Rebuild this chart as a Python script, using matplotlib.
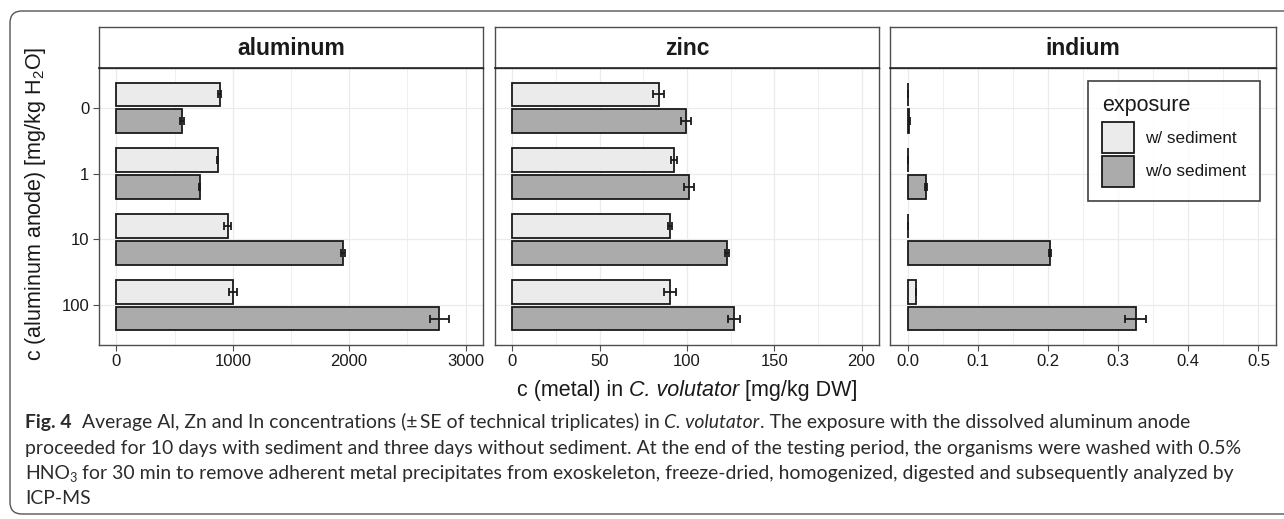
import matplotlib
matplotlib.use("Agg")
import matplotlib.pyplot as plt
from matplotlib.patches import Patch, FancyBboxPatch
from matplotlib import font_manager as fm

plt.rcParams['font.family'] = ['Liberation Sans', 'DejaVu Sans']
plt.rcParams['mathtext.fontset'] = 'custom'
plt.rcParams['mathtext.rm'] = 'Liberation Sans'
plt.rcParams['mathtext.it'] = 'Liberation Sans:italic'

# ---------------- data ----------------
concentrations = ['0', '1', '10', '100']
metals = ['aluminum', 'zinc', 'indium']
exposures = ['w/ sediment', 'w/o sediment']

al_with = [887, 870, 955, 1001]
al_with_se = [14, 3, 27, 34]
al_without = [564, 715, 1946, 2775]
al_without_se = [16, 4, 20, 80]

zn_with = [83.7, 92.7, 90.4, 90.2]
zn_with_se = [3.3, 1.7, 1.0, 3.3]
zn_without = [99.5, 101.3, 122.8, 127.0]
zn_without_se = [2.7, 2.8, 1.0, 3.3]

in_with = [0.0004, 0.0003, 0.0003, 0.0124]
in_with_se = [0.0002, 0.0001, 0.0001, 0.0003]
in_without = [0.0025, 0.0267, 0.2035, 0.325]
in_without_se = [0.001, 0.0015, 0.0015, 0.0145]

al_ticks = [0, 1000, 2000, 3000]
zn_ticks = [0, 50, 100, 150, 200]
in_ticks = [0.0, 0.1, 0.2, 0.3, 0.4, 0.5]
al_ticklabels = ['0', '1000', '2000', '3000']
zn_ticklabels = ['0', '50', '100', '150', '200']
in_ticklabels = ['0.0', '0.1', '0.2', '0.3', '0.4', '0.5']

ylabel = r'c (aluminum anode) [mg/kg H$\mathregular{_2}$O]'
xlabel_parts = ['c (metal) in ', 'C. volutator', ' [mg/kg DW]']
legend_title = 'exposure'

caption_lines = [
    [("Fig. 4", 'b'), (None, 2), ("Average Al, Zn and In concentrations (\u00b1\u2009SE of technical triplicates) in", 'n'),
     (None, 1), ("C. volutator", 'i'), (". The exposure with the dissolved aluminum anode", 'n')],
    [("proceeded for 10 days with sediment and three days without sediment. At the end of the testing period, the organisms were washed with 0.5%", 'n')],
    [("HNO", 'n'), ("3", 's'), (None, 1),
     ("for 30 min to remove adherent metal precipitates from exoskeleton, freeze-dried, homogenized, digested and subsequently analyzed by", 'n')],
    [("ICP-MS", 'n')],
]

# ---------------- style ----------------
W, H = 1284, 519
LIGHT = '#EBEBEB'
DARK = '#ABABAB'
EDGE = '#1A1A1A'
SPINE = '#4D4D4D'
GRID = '#EBEBEB'
TXT = '#1A1A1A'

fig = plt.figure(figsize=(W / 100, H / 100), dpi=100)


def fx(px):
    return px / W


def fy(py):
    return 1 - py / H


panel_x = [(99, 483), (495, 879), (890, 1276)]
strip_top, panel_top, panel_bot = 27, 68, 345

datasets = [
    (al_with, al_with_se, al_without, al_without_se, al_ticks, al_ticklabels),
    (zn_with, zn_with_se, zn_without, zn_without_se, zn_ticks, zn_ticklabels),
    (in_with, in_with_se, in_without, in_without_se, in_ticks, in_ticklabels),
]

ypos = list(range(len(concentrations)))
axes = []
for i, (metal, (x0, x1), ds) in enumerate(zip(metals, panel_x, datasets)):
    w_vals, w_se, wo_vals, wo_se, ticks, ticklabels = ds
    ax = fig.add_axes([fx(x0), fy(panel_bot), fx(x1) - fx(x0), (panel_bot - panel_top) / H])
    axes.append(ax)
    ax.set_axisbelow(True)
    yw = [p - 0.2 for p in ypos]
    ywo = [p + 0.2 for p in ypos]
    ax.barh(yw, w_vals, height=0.36, color=LIGHT, edgecolor=EDGE, linewidth=1.3, zorder=2)
    ax.barh(ywo, wo_vals, height=0.36, color=DARK, edgecolor=EDGE, linewidth=1.3, zorder=2)
    ax.errorbar(w_vals, yw, xerr=w_se, fmt='none', ecolor=EDGE, elinewidth=1.3,
                capsize=2.8, capthick=1.3, zorder=3)
    ax.errorbar(wo_vals, ywo, xerr=wo_se, fmt='none', ecolor=EDGE, elinewidth=1.3,
                capsize=2.8, capthick=1.3, zorder=3)
    span = ticks[-1] - ticks[0]
    ax.set_xlim(ticks[0] - 0.05 * span, ticks[-1] + 0.05 * span)
    ax.set_ylim(len(concentrations) - 0.4, -0.6)
    ax.set_xticks(ticks)
    ax.set_xticklabels(ticklabels)
    minor = [(a + b) / 2 for a, b in zip(ticks[:-1], ticks[1:])]
    ax.set_xticks(minor, minor=True)
    ax.set_yticks(ypos)
    ax.grid(True, which='major', color=GRID, linewidth=0.9)
    ax.grid(True, which='minor', axis='x', color=GRID, linewidth=0.55)
    ax.tick_params(axis='x', which='major', length=4, width=0.8, color=SPINE, labelsize=12,
                   labelcolor=TXT, pad=2.5)
    ax.tick_params(axis='x', which='minor', length=0)
    if i == 0:
        ax.set_yticklabels(concentrations)
        ax.tick_params(axis='y', length=4, width=0.8, color=SPINE, labelsize=12, labelcolor=TXT, pad=3)
    else:
        ax.tick_params(axis='y', length=0, labelleft=False)
    for s in ax.spines.values():
        s.set_color(SPINE)
        s.set_linewidth(1.0)
    # strip
    sax = fig.add_axes([fx(x0), fy(panel_top), fx(x1) - fx(x0), (panel_top - strip_top) / H])
    sax.set_xticks([])
    sax.set_yticks([])
    for s in sax.spines.values():
        s.set_color(SPINE)
        s.set_linewidth(1.0)
    sax.spines['bottom'].set_color('#222222')
    sax.spines['bottom'].set_linewidth(1.2)
    sax.text(0.5, 0.47, metal, transform=sax.transAxes, ha='center', va='center',
             fontsize=16.5, fontweight='bold', color=TXT)

# legend
handles = [Patch(facecolor=LIGHT, edgecolor=EDGE, linewidth=1.3),
           Patch(facecolor=DARK, edgecolor=EDGE, linewidth=1.3)]
leg = axes[2].legend(handles, exposures, title=legend_title, loc='upper left',
                     bbox_to_anchor=(fx(1088), fy(81)), bbox_transform=fig.transFigure,
                     fontsize=12.3, title_fontsize=15.5, frameon=True, fancybox=False,
                     handlelength=1.85, handleheight=2.41, labelspacing=0.15,
                     handletextpad=0.65, borderpad=0.82, borderaxespad=0, alignment='left')
leg.get_frame().set_edgecolor('#111111')
leg.get_frame().set_linewidth(1.2)
leg.get_title().set_color(TXT)
for t in leg.get_texts():
    t.set_color(TXT)
try:
    leg._legend_box.sep = 4.5
except Exception:
    pass

# axis titles
fig.text(fx(36), fy(204), ylabel, rotation=90, ha='center', va='center', fontsize=15.5, color=TXT)

renderer = fig.canvas.get_renderer()
xl_fonts = [dict(), dict(style='italic'), dict()]
xl_texts = []
widths = []
for part, f in zip(xlabel_parts, xl_fonts):
    t = fig.text(0, fy(396), part.strip(), fontsize=15.5, color=TXT, va='baseline', ha='left', **f)
    xl_texts.append(t)
    widths.append(t.get_window_extent(renderer).width)
sp_t = fig.text(0, 0, 'a a', fontsize=15.5)
sp_a = fig.text(0, 0, 'aa', fontsize=15.5)
space_w = sp_t.get_window_extent(renderer).width - sp_a.get_window_extent(renderer).width
sp_t.remove()
sp_a.remove()
total = sum(widths) + 2 * space_w
x = 687 - total / 2
for t, w in zip(xl_texts, widths):
    t.set_x(fx(x))
    x += w + space_w

# caption
def pick(families):
    for f in families:
        try:
            fm.findfont(fm.FontProperties(family=f), fallback_to_default=False)
            return f
        except Exception:
            continue
    return 'DejaVu Sans'

cap_family = pick(['Lato', 'Open Sans', 'Noto Sans'])
CAPC = '#2B2B2B'


def cap_style(kind):
    d = dict(family=[cap_family, 'DejaVu Sans'], color=CAPC)
    if kind == 'b':
        d['fontweight'] = 'bold'
    else:
        d['fontweight'] = 'normal'
    if kind == 'i':
        d['style'] = 'italic'
    return d


def measure(text, size, kind):
    t = fig.text(0, 0, text, fontsize=size, **cap_style(kind))
    w = t.get_window_extent(renderer).width
    t.remove()
    return w


base = 10.0
w2 = measure(caption_lines[1][0][0], base, 'n')
cap_size = base * 1216 / w2
cap_space = measure('a a', cap_size, 'n') - measure('aa', cap_size, 'n')

baselines = [428, 454, 479, 504]
for line, by in zip(caption_lines, baselines):
    x = 25
    for text, kind in line:
        if text is None:
            x += kind * cap_space
            continue
        if kind == 's':
            t = fig.text(fx(x), fy(by + 3), text, fontsize=cap_size * 0.65, va='baseline', ha='left',
                         **cap_style('n'))
        else:
            t = fig.text(fx(x), fy(by), text, fontsize=cap_size, va='baseline', ha='left', **cap_style(kind))
        x += t.get_window_extent(renderer).width

# rounded frame
frame = FancyBboxPatch((10, 5), 1300, 503, boxstyle='round,pad=0,rounding_size=12',
                       transform=None, facecolor='none', edgecolor='#555555', linewidth=1.0)
fig.patches.append(frame)

fig.savefig('out.png', dpi=100)
